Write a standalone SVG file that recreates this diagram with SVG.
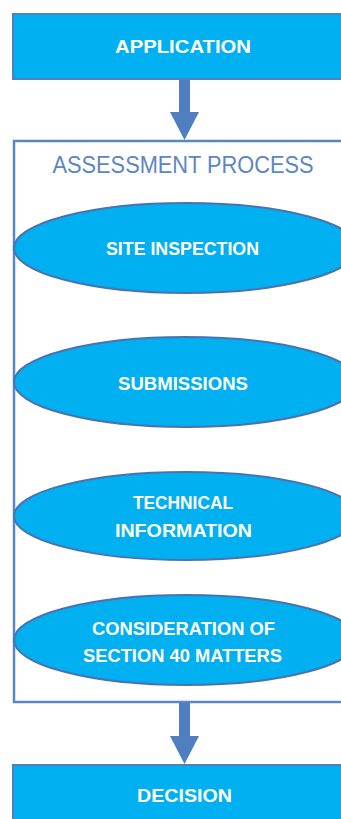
<svg xmlns="http://www.w3.org/2000/svg" width="341" height="819" viewBox="0 0 341 819">
<defs>
<style>
.box{fill:#00b0f0;stroke:#4f81bd;stroke-width:2}
.oval{fill:#00b0f0;stroke:#4a72b0;stroke-width:2}
.frame{fill:#ffffff;stroke:#5b86c4;stroke-width:2.5}
.lbl{font-family:"Liberation Sans",Arial,sans-serif;font-weight:bold;font-size:19px;fill:#ffffff;text-anchor:middle}
.title{font-family:"Liberation Sans",Arial,sans-serif;font-size:23px;fill:#5b86c4;text-anchor:middle}
.arrow{fill:#4f7fc0}
</style>
</defs>
<rect width="341" height="819" fill="#ffffff"/>
<g id="assessment">
<rect class="frame" x="14" y="141" width="400" height="561"/>
<text class="title" x="183" y="173" textLength="261" lengthAdjust="spacingAndGlyphs">ASSESSMENT PROCESS</text>
</g>
<g id="application">
<rect class="box" x="13" y="14" width="400" height="65"/>
<text class="lbl" x="183" y="53" font-size="21" textLength="136" lengthAdjust="spacingAndGlyphs">APPLICATION</text>
</g>
<g id="site-inspection">
<ellipse class="oval" cx="186" cy="248" rx="172" ry="45"/>
<text class="lbl" x="182.5" y="255" textLength="153" lengthAdjust="spacingAndGlyphs">SITE INSPECTION</text>
</g>
<g id="submissions">
<ellipse class="oval" cx="186" cy="382" rx="172" ry="45"/>
<text class="lbl" x="183" y="390" textLength="130" lengthAdjust="spacingAndGlyphs">SUBMISSIONS</text>
</g>
<g id="technical-information">
<ellipse class="oval" cx="186" cy="516" rx="172" ry="44"/>
<text class="lbl" x="183" y="509" textLength="100" lengthAdjust="spacingAndGlyphs">TECHNICAL</text>
<text class="lbl" x="183.5" y="537" textLength="137" lengthAdjust="spacingAndGlyphs">INFORMATION</text>
</g>
<g id="section-40">
<ellipse class="oval" cx="186" cy="640" rx="172" ry="45"/>
<text class="lbl" x="183.5" y="635" textLength="183" lengthAdjust="spacingAndGlyphs">CONSIDERATION OF</text>
<text class="lbl" x="182.5" y="662" textLength="199" lengthAdjust="spacingAndGlyphs">SECTION 40 MATTERS</text>
</g>
<g id="decision">
<rect class="box" x="13" y="765" width="400" height="100"/>
<text class="lbl" x="184.5" y="801.5" font-size="21" textLength="95" lengthAdjust="spacingAndGlyphs">DECISION</text>
</g>
<g id="connectors">
<polygon class="arrow" points="179,80 190,80 190,112 199,112 184.5,140 170,112 179,112"/>
<polygon class="arrow" points="179,703 190,703 190,736 199,736 184.5,764 170,736 179,736"/>
</g>
</svg>
